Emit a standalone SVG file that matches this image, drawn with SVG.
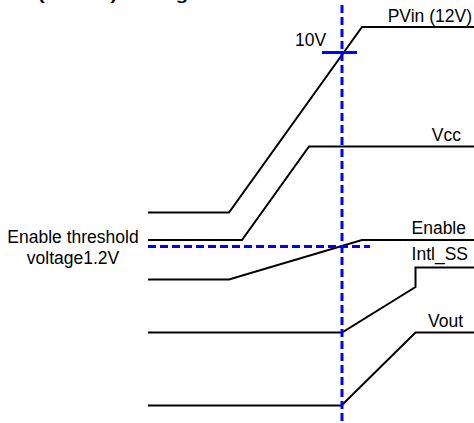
<svg xmlns="http://www.w3.org/2000/svg" width="474" height="423" viewBox="0 0 474 423">
<style>
.sig{fill:none;stroke:#000;stroke-width:2;stroke-linejoin:miter}
.ref{fill:none;stroke:#0000ff;stroke-width:3;stroke-dasharray:8 4}
.tick{fill:none;stroke:#0000ff;stroke-width:3}
text{font-family:"Liberation Sans",Arial,sans-serif;font-size:17.5px;fill:#000}
.title{font-weight:bold;font-size:16px}
</style>
<rect width="474" height="423" fill="#fff"/>
<text class="title" x="38" y="0" textLength="150" lengthAdjust="spacingAndGlyphs">(Enable) Timing</text>
<g id="connectors">
  <path id="pvin" class="sig" d="M148,212.5 H229 L362,27 H474"/>
  <path id="vcc" class="sig" d="M148,240 H242 L309,146.5 H474"/>
  <path id="enable" class="sig" d="M148,279.5 H229 L362,240 H474"/>
  <path id="intl_ss" class="sig" d="M148,332.5 H342 L415.5,287 V267.5 H474"/>
  <path id="vout" class="sig" d="M148,405.5 H341.5 L415.5,332.5 H474"/>
  <line class="ref" x1="342" y1="5" x2="342" y2="423"/>
  <line class="ref" x1="148" y1="246.5" x2="370" y2="246.5"/>
  <line class="tick" x1="322" y1="52.5" x2="357" y2="52.5"/>
</g>
<g id="label-pvin"><text x="472" y="22" text-anchor="end">PVin (12V)</text></g>
<g id="label-10v"><text x="295" y="46">10V</text></g>
<g id="label-vcc"><text x="461" y="141" text-anchor="end">Vcc</text></g>
<g id="label-enable"><text x="466" y="234" text-anchor="end">Enable</text></g>
<g id="label-intl"><text x="468" y="260" text-anchor="end">Intl_SS</text></g>
<g id="label-vout"><text x="463" y="327" text-anchor="end">Vout</text></g>
<g id="label-threshold"><text x="73" y="243" text-anchor="middle">Enable threshold</text><text x="73" y="264" text-anchor="middle">voltage1.2V</text></g>
</svg>
